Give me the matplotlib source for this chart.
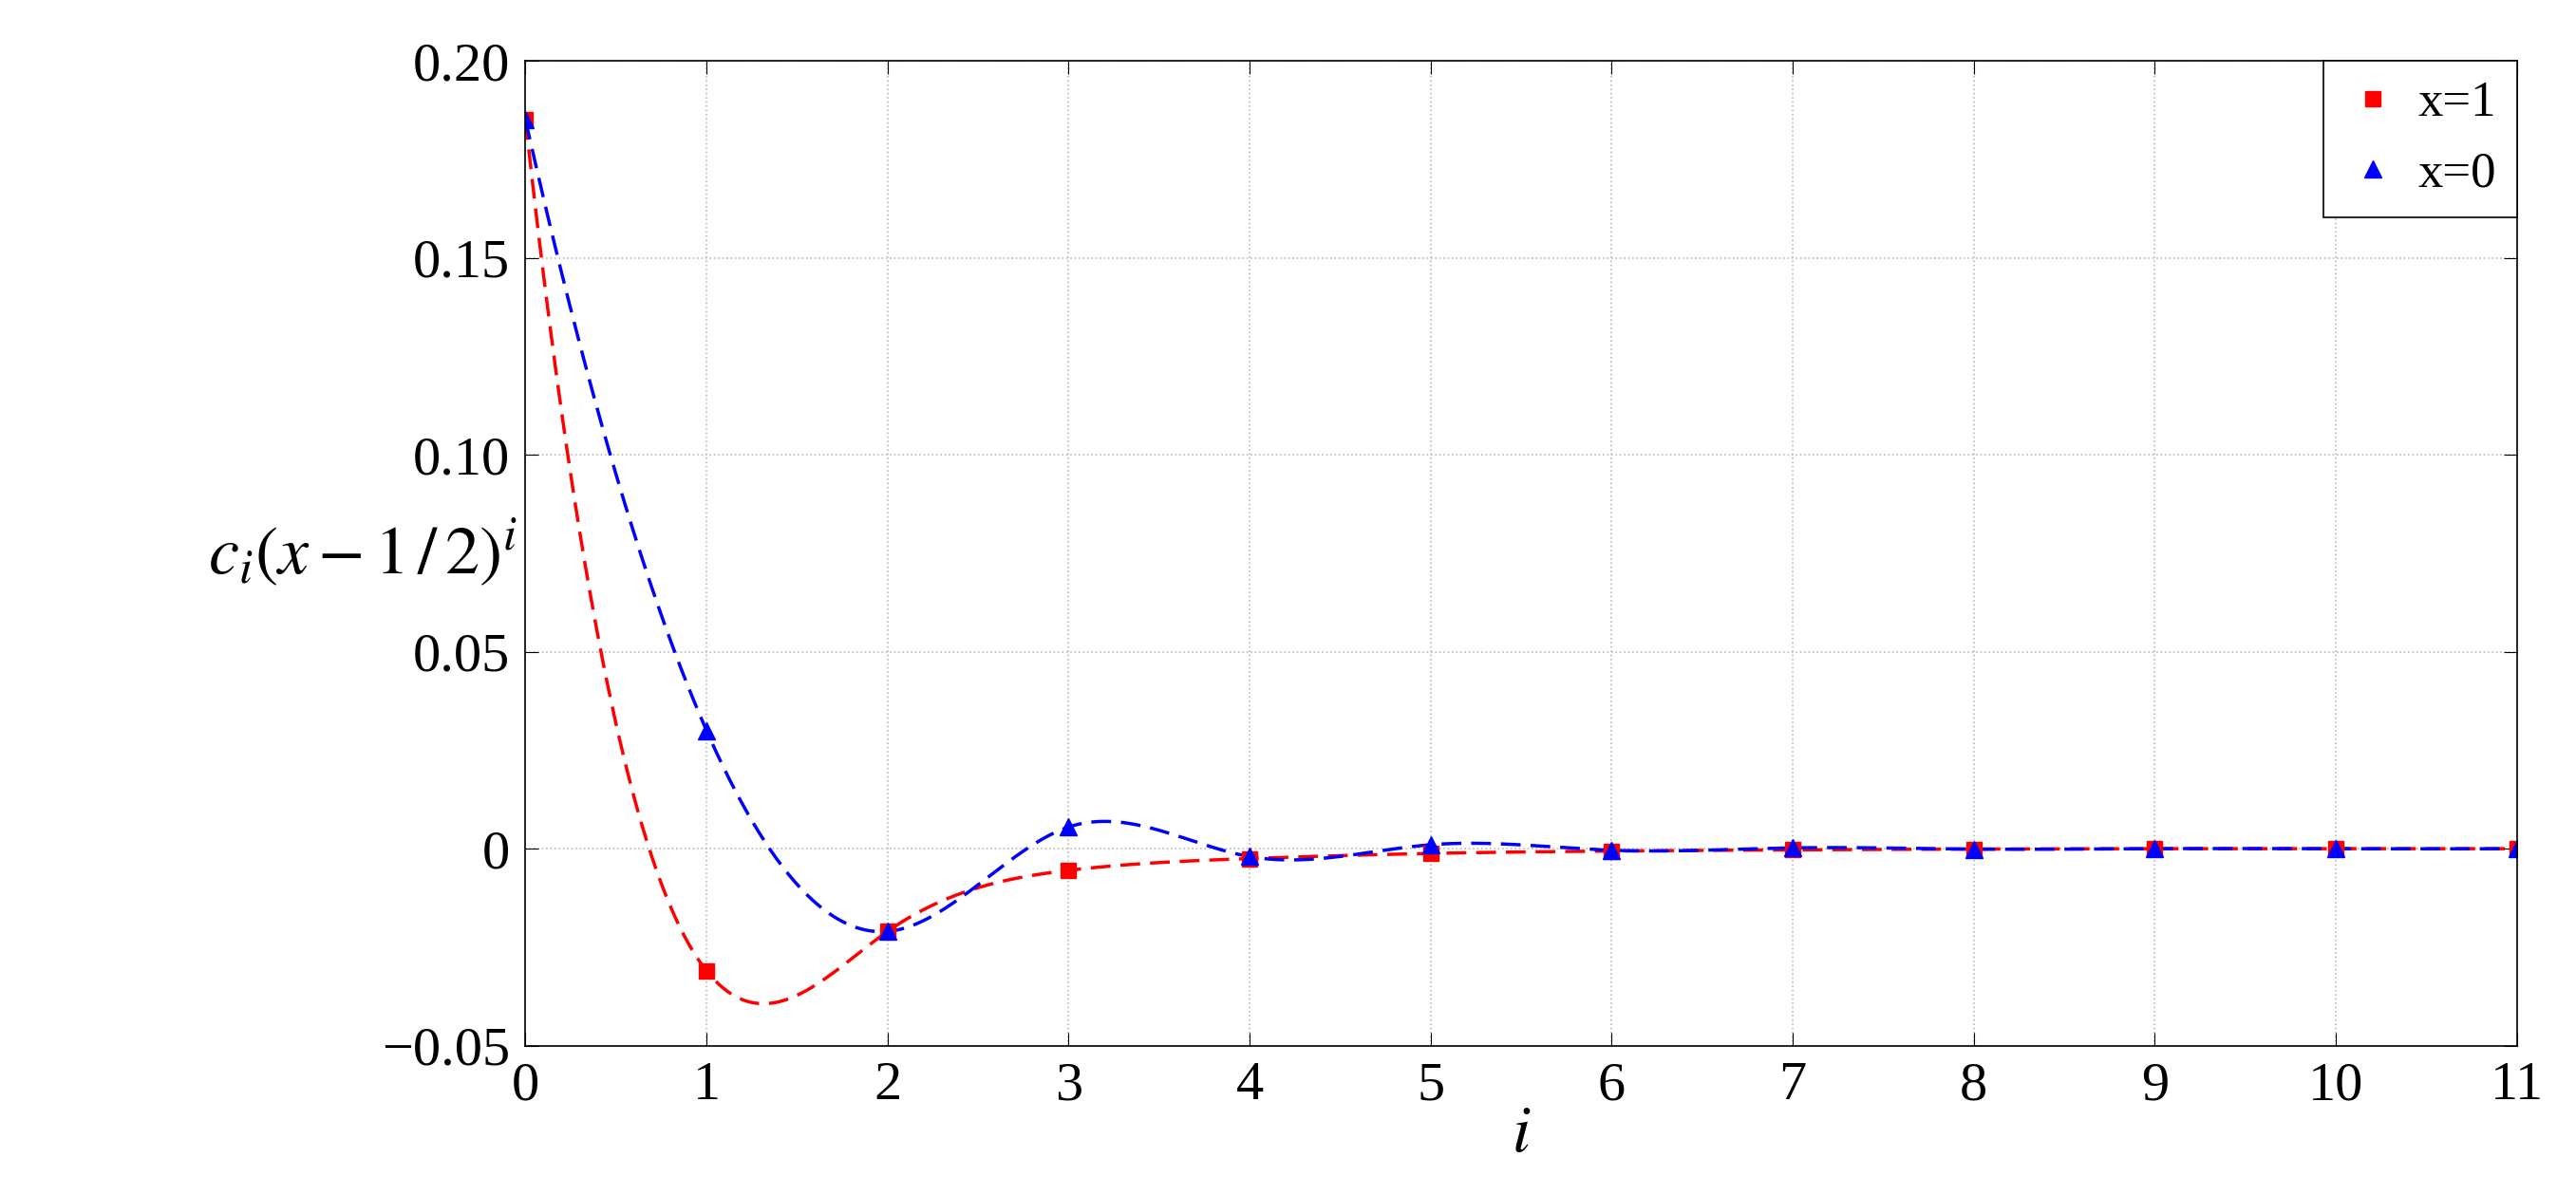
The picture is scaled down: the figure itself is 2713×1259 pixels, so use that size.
import numpy as np
import matplotlib
matplotlib.use("Agg")
import matplotlib.pyplot as plt

i_vals = [0, 1, 2, 3, 4, 5, 6, 7, 8, 9, 10, 11]
x1_vals = [0.185, -0.031, -0.021, -0.0055, -0.0025, -0.0012, -0.0006, -0.0003, -0.0001, 0.0, 0.0, 0.0]
x0_vals = [0.185, 0.030, -0.021, 0.0055, -0.002, 0.0010, -0.0004, 0.0002, -0.0001, 0.0, 0.0, 0.0]

def spline(x, y, xs):
    # not-a-knot cubic spline
    x = np.asarray(x, float); y = np.asarray(y, float); n = len(x)
    h = np.diff(x)
    A = np.zeros((n, n)); b = np.zeros(n)
    for k in range(1, n - 1):
        A[k, k-1] = h[k-1]; A[k, k] = 2*(h[k-1]+h[k]); A[k, k+1] = h[k]
        b[k] = 6*((y[k+1]-y[k])/h[k] - (y[k]-y[k-1])/h[k-1])
    A[0, 0] = h[1]; A[0, 1] = -(h[0]+h[1]); A[0, 2] = h[0]
    A[-1, -3] = h[-1]; A[-1, -2] = -(h[-2]+h[-1]); A[-1, -1] = h[-2]
    M = np.linalg.solve(A, b)
    out = np.empty_like(xs)
    for j, t in enumerate(xs):
        k = min(max(np.searchsorted(x, t) - 1, 0), n - 2)
        a = x[k+1]-t; c = t-x[k]
        out[j] = (M[k]*a**3 + M[k+1]*c**3)/(6*h[k]) + (y[k]/h[k]-M[k]*h[k]/6)*a + (y[k+1]/h[k]-M[k+1]*h[k]/6)*c
    return out

plt.rcParams['font.family'] = ['Liberation Serif', 'DejaVu Serif']
plt.rcParams['mathtext.fontset'] = 'stix'
fig = plt.figure(figsize=(27.13, 12.59), dpi=100)
ax = fig.add_axes([0.204, 0.125, 0.773, 0.824])
xs = np.linspace(0, 11, 1000)
ax.plot(xs, spline(i_vals, x1_vals, xs), '--', color='red', lw=2.5, dashes=(6, 3))
ax.plot(xs, spline(i_vals, x0_vals, xs), '--', color='blue', lw=2.5, dashes=(6, 3))
ax.plot(i_vals, x1_vals, 's', color='red', ms=12, ls='none', label='x=1')
ax.plot(i_vals, x0_vals, '^', color='blue', ms=13, ls='none', label='x=0')
ax.set_xlim(0, 11); ax.set_ylim(-0.05, 0.2)
ax.set_xticks(range(12))
yt = [-0.05, 0, 0.05, 0.1, 0.15, 0.2]
ax.set_yticks(yt)
ax.set_yticklabels(['\u22120.05', '0', '0.05', '0.10', '0.15', '0.20'])
ax.tick_params(labelsize=42, direction='in', length=10, top=True, right=True, pad=12)
ax.grid(True, ls=':', color='#bbbbbb', lw=1.2)
for s in ax.spines.values():
    s.set_linewidth(1.2)
ax.set_xlabel('$i$', fontsize=50, labelpad=-4)
ax.set_ylabel('$c_i(x-1\\,/\\,2)^i$', fontsize=52, rotation=0, labelpad=14, va='center')
leg = ax.legend(loc='upper right', fontsize=38, fancybox=False, framealpha=1, edgecolor='black',
                borderaxespad=0, handletextpad=0.3, handlelength=1.2)
leg.get_frame().set_linewidth(1.2)
fig.savefig('out.png')
